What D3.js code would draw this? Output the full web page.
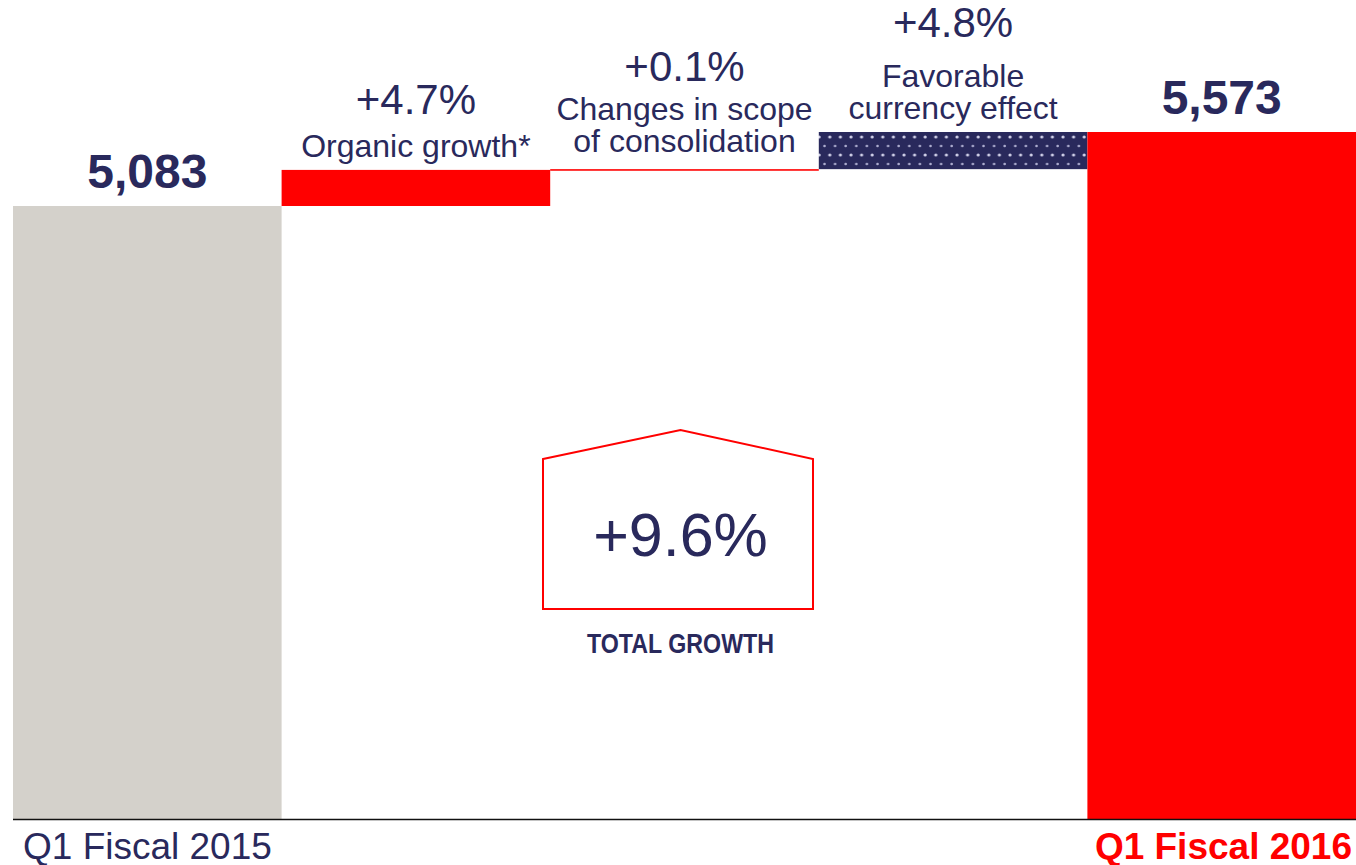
<!DOCTYPE html>
<html>
<head>
<meta charset="utf-8">
<script src="https://cdn.jsdelivr.net/npm/d3@7"></script>
<style>
  html,body{margin:0;padding:0;background:#fff;}
  svg{display:block;}
</style>
</head>
<body>
<div id="chart"></div>
<script>
// sales bridge, Q1 fiscal 2015 -> Q1 fiscal 2016
var steps=['start','organic','scope','currency','end'];
var stepValues=[5083, 239, 5, 246, 5573];
var totalLabels=['5,083','5,573'];
var pctLabels=['+4.7%','+0.1%','+4.8%'];
var descLabels=[['Organic growth*'],['Changes in scope','of consolidation'],['Favorable','currency effect']];
var axisLabels=['Q1 Fiscal 2015','Q1 Fiscal 2016'];
var totalGrowth='+9.6%';

var W=1356, H=865;
var NAVY='#29295c', RED='#ff0000', GREY='#d4d1cb';
var F='"Liberation Sans",Arial,Helvetica,sans-serif';

var svg=d3.select('#chart').append('svg').attr('width',W).attr('height',H);

// dotted fill for the currency bar
var pat=svg.append('defs').append('pattern').attr('id','dots').attr('patternUnits','userSpaceOnUse')
  .attr('width',10.6).attr('height',18).attr('y',132);
pat.append('rect').attr('width',10.6).attr('height',18).attr('fill',NAVY);
pat.append('circle').attr('cx',3).attr('cy',5).attr('r',1.6).attr('fill','#d0d0e8');
pat.append('circle').attr('cx',8.3).attr('cy',14).attr('r',1.3).attr('fill','#b0b0d2');

var x=d3.scaleBand().domain(steps).range([13,1356]).padding(0);
// truncated value axis, as in the original slide
var y=d3.scaleLinear().domain([1024,5573]).range([819,132]);

// build bar extents
var bars=[], run=0;
stepValues.forEach(function(v,i){
  if(i==0||i==stepValues.length-1){bars.push({k:steps[i],y0:y.domain()[0],y1:v});run=v;}
  else{bars.push({k:steps[i],y0:run,y1:run+v});run+=v;}
});
var fills=[GREY,RED,RED,'url(#dots)',RED];

svg.selectAll('rect.bar').data(bars).enter().append('rect').attr('class','bar')
  .attr('x',function(d){return x(d.k)})
  .attr('width',x.bandwidth())
  .attr('y',function(d){return y(d.y1)})
  .attr('height',function(d){return Math.max(1.6,y(d.y0)-y(d.y1))})
  .attr('fill',function(d,i){return fills[i]});

// baseline
svg.append('line').attr('x1',13).attr('x2',W).attr('y1',819.5).attr('y2',819.5).attr('stroke','#111').attr('stroke-width',1.3);

// totals
[0,4].forEach(function(i,j){
  svg.append('text').attr('x',x(steps[i])+x.bandwidth()/2).attr('y',y(bars[i].y1)-18)
    .attr('text-anchor','middle').attr('font-family',F).attr('font-weight','bold').attr('font-size',48)
    .attr('fill',NAVY).text(totalLabels[j]);
});

// step labels
var descGap=[13,17,13], pctGap=[43,39,50], lineH=32;
[1,2,3].forEach(function(i,j){
  var cx=x(steps[i])+x.bandwidth()/2, top=y(bars[i].y1);
  var lines=descLabels[j], base=top-descGap[j];
  lines.slice().reverse().forEach(function(t,k){
    svg.append('text').attr('x',cx).attr('y',base-k*lineH).attr('text-anchor','middle')
      .attr('font-family',F).attr('font-size',32).attr('fill',NAVY).text(t);
  });
  svg.append('text').attr('x',cx).attr('y',base-(lines.length-1)*lineH-pctGap[j])
    .attr('text-anchor','middle').attr('font-family',F).attr('font-size',42).attr('fill',NAVY).text(pctLabels[j]);
});

// total growth badge
var bx=x('scope')+x.bandwidth()/2-4;
svg.append('path').attr('d','M543,459L'+bx+',430L813,459L813,609L543,609Z')
  .attr('fill','none').attr('stroke',RED).attr('stroke-width',2);
svg.append('text').attr('x',bx).attr('y',556).attr('text-anchor','middle').attr('font-family',F)
  .attr('font-size',61).attr('fill',NAVY).text(totalGrowth);
svg.append('text').attr('x',bx).attr('y',653).attr('text-anchor','middle').attr('font-family',F)
  .attr('font-weight','bold').attr('font-size',27).attr('textLength',187).attr('lengthAdjust','spacingAndGlyphs')
  .attr('fill',NAVY).text('TOTAL GROWTH');

// category labels
svg.append('text').attr('x',23).attr('y',859).attr('font-family',F).attr('font-size',37).attr('fill',NAVY).text(axisLabels[0]);
svg.append('text').attr('x',1352).attr('y',859).attr('text-anchor','end').attr('font-family',F).attr('font-weight','bold')
  .attr('font-size',37).attr('fill',RED).text(axisLabels[1]);
</script>
</body>
</html>
